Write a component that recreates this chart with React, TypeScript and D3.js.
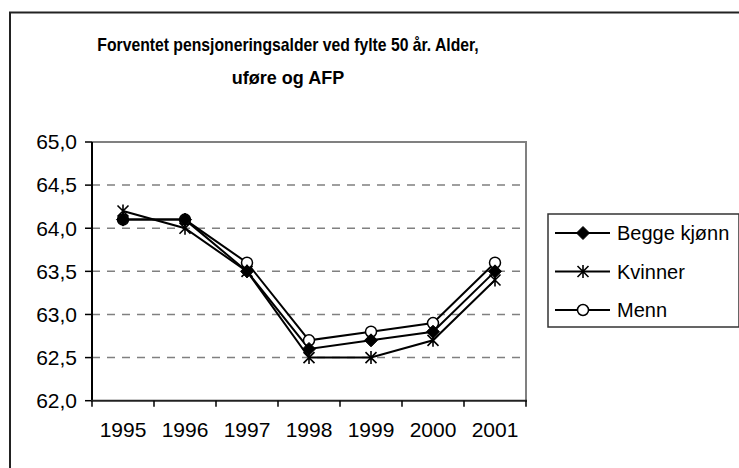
import React from "react";
import * as d3 from "d3";

const years = ["1995", "1996", "1997", "1998", "1999", "2000", "2001"];
const beggeKjonn = [64.1, 64.1, 63.5, 62.6, 62.7, 62.8, 63.5];
const kvinner = [64.2, 64.0, 63.5, 62.5, 62.5, 62.7, 63.4];
const menn = [64.1, 64.1, 63.6, 62.7, 62.8, 62.9, 63.6];
const yTicks = [62.0, 62.5, 63.0, 63.5, 64.0, 64.5, 65.0];
const titleLines = ["Forventet pensjoneringsalder ved fylte 50 år. Alder,", "uføre og AFP"];
const titleScales = [0.9, 1.0];
const seriesNames = ["Begge kjønn", "Kvinner", "Menn"];

const W = 739;
const H = 468;
const FONT = "'Liberation Sans', Arial, sans-serif";

function Marker({ type, x, y }: { type: string; x: number; y: number }) {
  if (type === "diamond") {
    const s = 6.5;
    return <path d={`M${x},${y - s}L${x + s},${y}L${x},${y + s}L${x - s},${y}Z`} fill="#000" stroke="#000" strokeWidth={1} />;
  }
  if (type === "star") {
    const s = 5.5;
    return (
      <path
        d={`M${x - s},${y - s}L${x + s},${y + s}M${x - s},${y + s}L${x + s},${y - s}M${x},${y - s - 1}L${x},${y + s + 1}`}
        stroke="#000"
        strokeWidth={1.6}
        fill="none"
      />
    );
  }
  return <circle cx={x} cy={y} r={5.5} fill="#fff" stroke="#000" strokeWidth={1.5} />;
}

export default function App() {
  const x = d3.scaleBand<string>().domain(years).range([92, 526]);
  const y = d3.scaleLinear().domain([62, 65]).range([400.7, 142]);
  const cx = (d: string) => (x(d) as number) + x.bandwidth() / 2;
  const fmt = (v: number) => d3.format(".1f")(v).replace(".", ",");
  const line = d3
    .line<number>()
    .x((_, i) => cx(years[i]))
    .y((v) => y(v));

  const series = [
    { name: seriesNames[0], values: beggeKjonn, marker: "diamond" },
    { name: seriesNames[1], values: kvinner, marker: "star" },
    { name: seriesNames[2], values: menn, marker: "circle" },
  ];
  const markerOrder = [series[2], series[1], series[0]];

  const boundaries = years.map((d) => x(d) as number).concat([526]);

  return (
    <svg width={W} height={H} style={{ position: "absolute", left: 0, top: 0, background: "#fff" }} fontFamily={FONT}>
      <rect x={0} y={0} width={W} height={H} fill="#fff" />
      {/* outer frame */}
      <path d={`M10,${H}L10,12.5L${W},12.5`} fill="none" stroke="#222" strokeWidth={2} />

      {/* title */}
      {titleLines.map((t, i) => (
        <g key={i} transform={`translate(288,${51 + i * 33}) scale(${titleScales[i]},1)`}>
          <text x={0} y={0} textAnchor="middle" fontSize={i === 0 ? 17.5 : 18} fontWeight="bold" fill="#000">
            {t}
          </text>
        </g>
      ))}

      {/* gridlines */}
      {yTicks.slice(1, -1).map((v) => (
        <line key={v} x1={92} x2={526} y1={y(v)} y2={y(v)} stroke="#808080" strokeWidth={1.5} strokeDasharray="8,7" />
      ))}
      {/* plot border top/right */}
      <path d={`M92,${y(65)}L526,${y(65)}L526,${y(62)}`} fill="none" stroke="#808080" strokeWidth={2} />

      {/* y axis */}
      <line x1={92} x2={92} y1={y(65)} y2={y(62)} stroke="#000" strokeWidth={2} />
      {yTicks.map((v) => (
        <g key={v}>
          <line x1={85} x2={92} y1={y(v)} y2={y(v)} stroke="#000" strokeWidth={1.5} />
          <text x={77} y={y(v)} dy="0.35em" textAnchor="end" fontSize={21} fill="#000">
            {fmt(v)}
          </text>
        </g>
      ))}

      {/* x axis */}
      <line x1={91} x2={527} y1={y(62)} y2={y(62)} stroke="#222" strokeWidth={2} />
      {boundaries.map((b, i) => (
        <line key={i} x1={b} x2={b} y1={y(62)} y2={y(62) + 6} stroke="#000" strokeWidth={1.5} />
      ))}
      {years.map((d) => (
        <text key={d} x={cx(d)} y={437} textAnchor="middle" fontSize={21} fill="#000">
          {d}
        </text>
      ))}

      {/* lines */}
      {series.map((s) => (
        <path key={s.name} d={line(s.values) as string} fill="none" stroke="#000" strokeWidth={2} />
      ))}
      {/* markers */}
      {markerOrder.map((s) => (
        <g key={s.name}>
          {s.values.map((v, i) => (
            <Marker key={i} type={s.marker} x={cx(years[i])} y={y(v)} />
          ))}
        </g>
      ))}

      {/* legend */}
      <rect x={548} y={214} width={191} height={113} fill="#fff" stroke="#333" strokeWidth={1.5} />
      {series.map((s, i) => {
        const ly = 233 + i * 38.5;
        return (
          <g key={s.name}>
            <line x1={555} x2={610} y1={ly} y2={ly} stroke="#000" strokeWidth={2} />
            <Marker type={s.marker} x={583} y={ly} />
            <text x={617} y={ly} dy="0.35em" fontSize={20} fill="#000">
              {s.name}
            </text>
          </g>
        );
      })}
    </svg>
  );
}
